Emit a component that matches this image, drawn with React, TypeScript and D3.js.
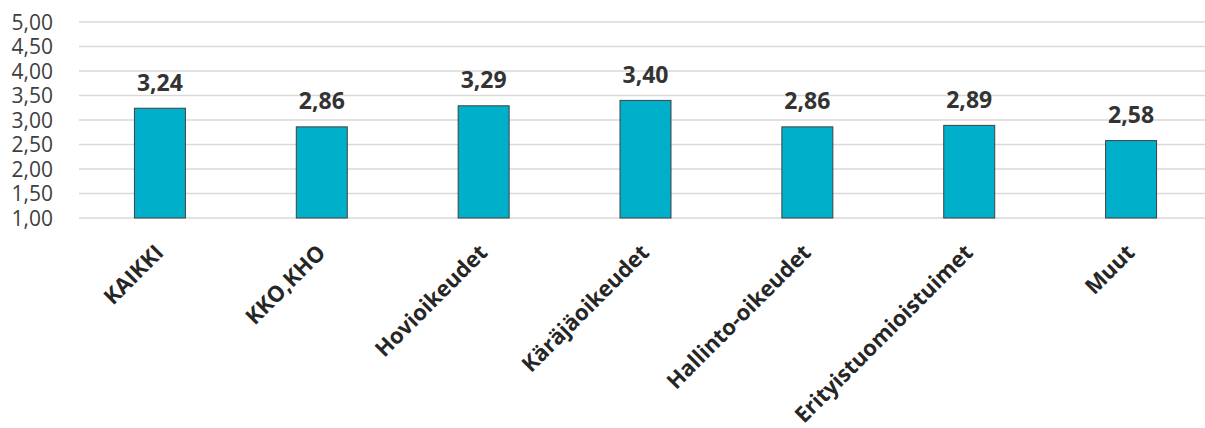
import React from "react";
import * as d3 from "d3";

const categories = ["KAIKKI", "KKO,KHO", "Hovioikeudet", "Käräjäoikeudet", "Hallinto-oikeudet", "Erityistuomioistuimet", "Muut"];
const values = [3.24, 2.86, 3.29, 3.40, 2.86, 2.89, 2.58];
const yTicks = [1.0, 1.5, 2.0, 2.5, 3.0, 3.5, 4.0, 4.5, 5.0];

const W = 1205, H = 428;
const left = 79, right = 1212, top = 22, bottom = 218;

export default function App() {
  const x = d3.scaleBand<string>().domain(categories).range([left, right]).paddingInner(0.685).paddingOuter(0.3425);
  const y = d3.scaleLinear().domain([1, 5]).range([bottom, top]);
  const fmt = (v: number) => v.toFixed(2).replace(".", ",");
  const font = "'Open Sans', sans-serif";
  return (
    <svg width={W} height={H} style={{ position: "absolute", left: 0, top: 0 }} fontFamily={font}>
      <rect width={W} height={H} fill="#fff" />
      {yTicks.map((t) => (
        <g key={t}>
          <line x1={left} x2={right} y1={y(t)} y2={y(t)} stroke="#d9d9d9" strokeWidth={1.5} />
          <text x={53} y={y(t)} dy="0.36em" textAnchor="end" fontSize={21} fill="#404040">{fmt(t)}</text>
        </g>
      ))}
      {categories.map((c, i) => {
        const bx = x(c)!;
        const cx = bx + x.bandwidth() / 2;
        return (
          <g key={c}>
            <rect x={bx} y={y(values[i])} width={x.bandwidth()} height={y(1) - y(values[i])} fill="#00B0CA" stroke="#404040" strokeWidth={1} />
            <text x={cx} y={y(values[i]) - 17.5} textAnchor="middle" fontSize={23} fontWeight="bold" fill="#333">{fmt(values[i])}</text>
            <text transform={`translate(${cx + 5},${bottom + 36}) rotate(-45)`} textAnchor="end" fontSize={22} fontWeight="bold" fill="#262626">{c}</text>
          </g>
        );
      })}
    </svg>
  );
}
